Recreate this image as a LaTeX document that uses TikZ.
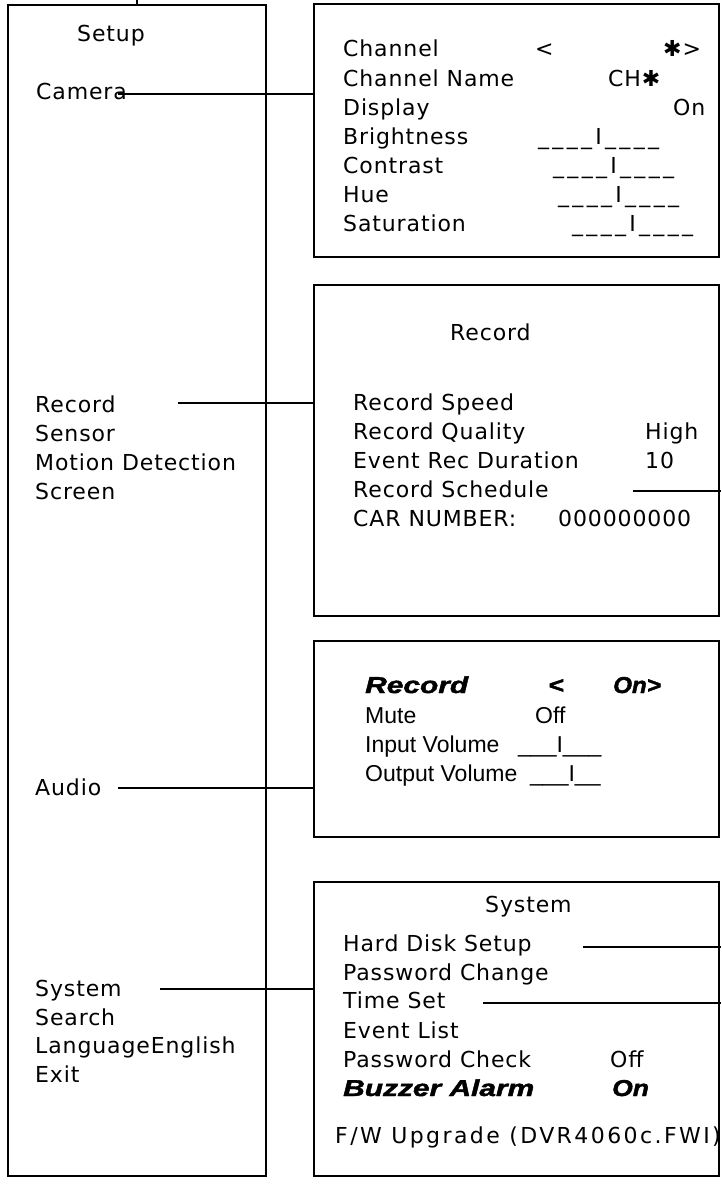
\documentclass[tikz,border=0pt]{standalone}
\usepackage{fontspec}
\usepackage{graphicx}
\setmainfont{DejaVu Sans}[LetterSpace=4]
\newfontfamily\arialfont{Liberation Sans}
\newfontfamily\blackfont{Liberation Sans Bold Italic}[FakeBold=1.6]
\usetikzlibrary{calc}
\newcommand{\heavy}[2][1.3]{\scalebox{#1}[1]{\blackfont #2}}
\newcommand{\slide}[1]{{\addfontfeature{LetterSpace=15}#1}}

\tikzset{
  panel/.style={draw, line width=1.9pt, inner sep=0pt, anchor=north west},
  item/.style={anchor=base west, inner sep=0pt, font=\fontsize{22}{26}\selectfont},
  aitem/.style={anchor=base west, inner sep=0pt, font=\arialfont\fontsize{23}{27}\selectfont},
  link/.style={line width=1.9pt},
}

\begin{document}
\begin{tikzpicture}[x=1pt, y=-1pt]
\useasboundingbox (0,0) rectangle (721,1184);
\coordinate (rim) at (721,0);
\coordinate (top) at (137,0);
% boxes
\node[panel, minimum width=258pt, minimum height=1171pt] (setupbox) at (7,4) {};
\node[panel, minimum width=405pt, minimum height=253pt] (cambox) at (313,3) {};
\node[panel, minimum width=405pt, minimum height=331pt] (recbox) at (313,284) {};
\node[panel, minimum width=405pt, minimum height=196pt] (audbox) at (313,640) {};
\node[panel, minimum width=405pt, minimum height=294pt] (sysbox) at (313,881) {};
% main menu
\node[item] (setup) at (77,41) {Setup};
\node[item] (camera) at (36,99) {Camera};
\node[item] (recmenu) at (35,412) {Record};
\node[item] (sensor) at (35,441) {Sensor};
\node[item] (motion) at (35,470) {Motion Detection};
\node[item] (screen) at (35,499) {Screen};
\node[item] (audio) at (35,795) {Audio};
\node[item] (sysmenu) at (35,996) {System};
\node[item] (search) at (35,1025) {Search};
\node[item] (language) at (35,1053) {LanguageEnglish};
\node[item] (exit) at (35,1082) {Exit};
% camera
\node[item] (chan) at (343,56) {Channel};
\node[item] (chanl) at (535,56) {<};
\node[item] (chanr) at (663,56) {✱>};
\node[item] (chname) at (343,86) {Channel Name};
\node[item] (chnameval) at (608,86) {CH✱};
\node[item] (display) at (343,115) {Display};
\node[item] (displayval) at (673,115) {On};
\node[item] (bright) at (343,144) {Brightness};
\node[item] (brightval) at (538,144) {\slide{\_\_\_\_I\_\_\_\_}};
\node[item] (contrast) at (343,173) {Contrast};
\node[item] (contrastval) at (553,173) {\slide{\_\_\_\_I\_\_\_\_}};
\node[item] (hue) at (343,202) {Hue};
\node[item] (hueval) at (558,202) {\slide{\_\_\_\_I\_\_\_\_}};
\node[item] (satur) at (343,231) {Saturation};
\node[item] (saturval) at (572,231) {\slide{\_\_\_\_I\_\_\_\_}};
% record
\node[item] (rectitle) at (450,340) {Record};
\node[item] (speed) at (353,410) {Record Speed};
\node[item] (quality) at (353,439) {Record Quality};
\node[item] (qualityval) at (645,439) {High};
\node[item] (evdur) at (353,468) {Event Rec Duration};
\node[item] (evdurval) at (645,468) {10};
\node[item] (sched) at (353,497) {Record Schedule};
\node[item] (carno) at (353,526) {CAR NUMBER:};
\node[item] (carnoval) at (558,526) {000000000};
% audio
\node[aitem] (audrec) at (365,693) {\heavy{Record}};
\node[aitem] (audrecl) at (548,693) {\heavy[1.15]{<}};
\node[aitem] (audrecr) at (613,693) {\heavy[1.05]{On>}};
\node[aitem] (mute) at (365,723) {Mute};
\node[aitem] (muteval) at (535,723) {Off};
\node[aitem] (invol) at (365,752) {Input Volume};
\node[aitem] (involval) at (518,752) {\_\_\_I\_\_\_};
\node[aitem] (outvol) at (365,781) {Output Volume};
\node[aitem] (outvolval) at (530,781) {\_\_\_I\_\_};
% system
\node[item] (systitle) at (485,912) {System};
\node[item] (hdd) at (343,951) {Hard Disk Setup};
\node[item] (pwchange) at (343,980) {Password Change};
\node[item] (timeset) at (343,1008) {Time Set};
\node[item] (evlist) at (343,1038) {Event List};
\node[item] (pwcheck) at (343,1067) {Password Check};
\node[item] (pwcheckval) at (610,1067) {Off};
\node[aitem] (buzzer) at (343,1096) {\heavy{Buzzer Alarm}};
\node[aitem] (buzzerval) at (612,1096) {\heavy[1.15]{On}};
\node[item] (fwup) at (335,1143) {\addfontfeature{LetterSpace=11}F/W Upgrade (DVR4060c.FWI)};
% links
\draw[link] (top) -- (top |- setupbox.north);
\draw[link] ($(camera.base west)+(82,-5)$) coordinate (c1) -- (c1 -| cambox.west);
\draw[link] ($(recmenu.base west)+(143,-9)$) coordinate (c2) -- (c2 -| recbox.west);
\draw[link] ($(audio.base west)+(83,-7)$) coordinate (c3) -- (c3 -| audbox.west);
\draw[link] ($(sysmenu.base west)+(125,-7)$) coordinate (c4) -- (c4 -| sysbox.west);
\draw[link] ($(sched.base west)+(280,-6)$) coordinate (c5) -- (c5 -| rim);
\draw[link] ($(hdd.base west)+(240,-4)$) coordinate (c6) -- (c6 -| rim);
\draw[link] ($(timeset.base west)+(140,-5)$) coordinate (c7) -- (c7 -| rim);
\end{tikzpicture}
\end{document}
